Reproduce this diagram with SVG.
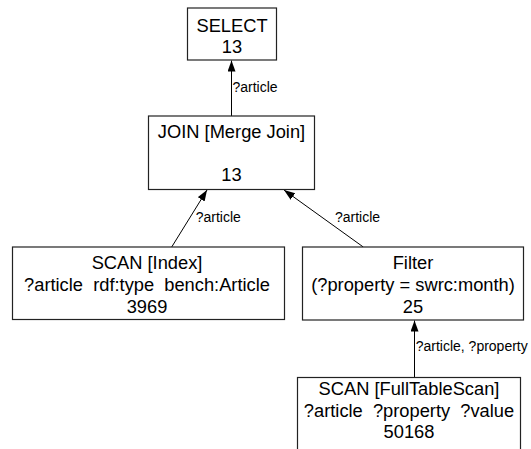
<svg xmlns="http://www.w3.org/2000/svg" width="531" height="449" viewBox="0 0 531 449">
  <style>
    .box { fill: #ffffff; stroke: #222222; stroke-width: 1.2; }
    .node { font-family: "Liberation Sans", Arial, sans-serif; font-size: 18.3px; fill: #000000; text-anchor: middle; white-space: pre; }
    .edge { stroke: #000000; stroke-width: 1; fill: none; marker-end: url(#arrow); }
    .lbl { font-family: "Liberation Sans", Arial, sans-serif; font-size: 14px; fill: #000000; }
  </style>
  <defs>
    <marker id="arrow" markerUnits="userSpaceOnUse" markerWidth="12" markerHeight="9" refX="11" refY="4" orient="auto">
      <path d="M0,0 L11,4 L0,8 z" fill="#000000"/>
    </marker>
  </defs>
  <rect width="531" height="449" fill="#ffffff"/>

  <!-- connectors: child -> parent -->
  <g id="connectors">
    <line class="edge" x1="231.5" y1="116" x2="231.5" y2="60.5"/>
    <text class="lbl" x="232.5" y="91.5">?article</text>
    <line class="edge" x1="171.7" y1="247" x2="207" y2="190"/>
    <text class="lbl" x="195.7" y="221.7">?article</text>
    <line class="edge" x1="363.3" y1="247" x2="284" y2="190"/>
    <text class="lbl" x="335" y="221.7">?article</text>
    <line class="edge" x1="414.5" y1="377.5" x2="414.5" y2="320.5"/>
    <text class="lbl" x="415.7" y="351">?article, ?property</text>
  </g>

  <g id="select">
    <rect class="box" x="187.5" y="8" width="89" height="52"/>
    <text class="node" x="232" y="31.7">SELECT</text>
    <text class="node" x="232" y="53.3">13</text>
  </g>

  <g id="join">
    <rect class="box" x="148.5" y="116" width="166" height="73.5"/>
    <text class="node" x="231.5" y="138.3">JOIN [Merge Join]</text>
    <text class="node" x="231.5" y="181">13</text>
  </g>

  <g id="scan-index">
    <rect class="box" x="12.5" y="247" width="272" height="72.5"/>
    <text class="node" x="147" y="268.5">SCAN [Index]</text>
    <text class="node" x="147" y="290.5">?article  rdf:type  bench:Article</text>
    <text class="node" x="147" y="312.5">3969</text>
  </g>

  <g id="filter">
    <rect class="box" x="302.5" y="247" width="221" height="73"/>
    <text class="node" x="413" y="269.3">Filter</text>
    <text class="node" x="413" y="291.3">(?property = swrc:month)</text>
    <text class="node" x="413" y="312.7">25</text>
  </g>

  <g id="scan-full">
    <rect class="box" x="297.5" y="377.5" width="223" height="73"/>
    <text class="node" x="409" y="395">SCAN [FullTableScan]</text>
    <text class="node" x="409" y="416.7">?article  ?property  ?value</text>
    <text class="node" x="409" y="438.3">50168</text>
  </g>
</svg>
